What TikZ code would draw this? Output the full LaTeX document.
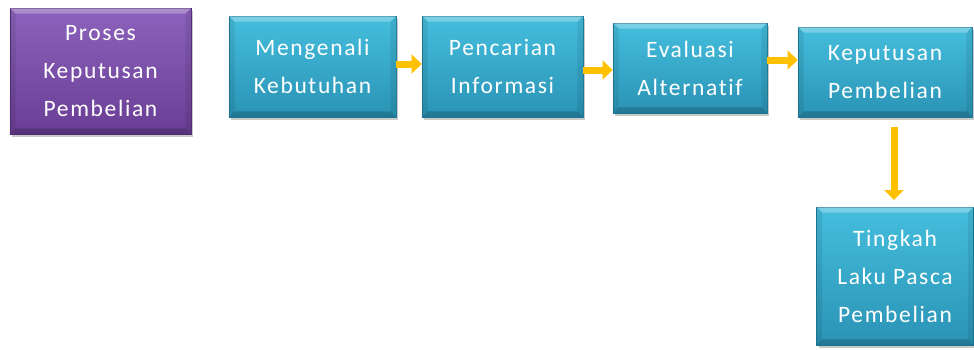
\documentclass[tikz,border=0pt]{standalone}
\usepackage{fontspec}
\setmainfont{Carlito}[LetterSpace=7,Ligatures={NoCommon,NoContextual},RawFeature={-liga;-clig;-dlig}]
\usetikzlibrary{shadows,arrows.meta}
\definecolor{tealtop}{HTML}{45BEDD}
\definecolor{tealbot}{HTML}{2A93B5}
\definecolor{tealedge}{HTML}{1F7D9C}
\definecolor{purptop}{HTML}{8C62BC}
\definecolor{purpbot}{HTML}{6A3E95}
\definecolor{purpedge}{HTML}{55307A}
\definecolor{arrowgold}{HTML}{FFC000}
\tikzset{
  boxbase/.style={rectangle, align=center, text=white, inner sep=0pt,
    font=\fontsize{23.5}{38}\selectfont,
    drop shadow={shadow xshift=2pt, shadow yshift=-3pt, opacity=0.35, fill=black!60}},
  tealbox/.style={boxbase, top color=tealtop, bottom color=tealbot, draw=tealedge, line width=0.8pt},
  purpbox/.style={boxbase, top color=purptop, bottom color=purpbot, draw=purpedge, line width=0.8pt},
  goldarrow/.style={draw=arrowgold, line width=7pt, -{Triangle[width=19pt,length=10pt]}, color=arrowgold}
}
\begin{document}
\begin{tikzpicture}[x=1pt,y=-1pt]
\useasboundingbox (0,0) rectangle (974,349);
\node[purpbox, minimum width=181pt, minimum height=126pt] (proses) at (100.5,71) {Proses\\Keputusan\\Pembelian};
\node[tealbox, minimum width=167pt, minimum height=101pt] (kenal) at (312.5,66.5) {Mengenali\\Kebutuhan};
\node[tealbox, minimum width=161pt, minimum height=101pt] (cari) at (502.5,66.5) {Pencarian\\Informasi};
\node[tealbox, minimum width=154pt, minimum height=90pt] (eval) at (690,68) {Evaluasi\\Alternatif};
\node[tealbox, minimum width=174pt, minimum height=90pt] (putus) at (885,72) {Keputusan\\Pembelian};
\node[tealbox, minimum width=157pt, minimum height=138pt] (laku) at (895,276) {Tingkah\\Laku Pasca\\Pembelian};
\foreach \n in {proses,kenal,cari,eval,putus,laku}{
  \fill[white,opacity=0.28] (\n.north west) -- (\n.north east) -- ([xshift=-6pt,yshift=-6pt]\n.north east) -- ([xshift=6pt,yshift=-6pt]\n.north west) -- cycle;
  \fill[black,opacity=0.18] (\n.south west) -- (\n.south east) -- ([xshift=-6pt,yshift=6pt]\n.south east) -- ([xshift=6pt,yshift=6pt]\n.south west) -- cycle;
  \fill[black,opacity=0.08] (\n.north west) -- ([xshift=6pt,yshift=-6pt]\n.north west) -- ([xshift=6pt,yshift=6pt]\n.south west) -- (\n.south west) -- cycle;
  \fill[black,opacity=0.08] (\n.north east) -- ([xshift=-6pt,yshift=-6pt]\n.north east) -- ([xshift=-6pt,yshift=6pt]\n.south east) -- (\n.south east) -- cycle;
}
\coordinate (a1s) at (397,64); \coordinate (a1e) at (422,64);
\coordinate (a2s) at (584,70); \coordinate (a2e) at (613,70);
\coordinate (a3s) at (768,60); \coordinate (a3e) at (798,60);
\coordinate (a4s) at (894,127); \coordinate (a4e) at (894,200);
\draw[goldarrow] (kenal.east |- a1s) -- (cari.west |- a1e);
\draw[goldarrow] (cari.east |- a2s) -- (eval.west |- a2e);
\draw[goldarrow] (eval.east |- a3s) -- (putus.west |- a3e);
\draw[goldarrow] (a4s) -- (a4e);
\end{tikzpicture}
\end{document}
